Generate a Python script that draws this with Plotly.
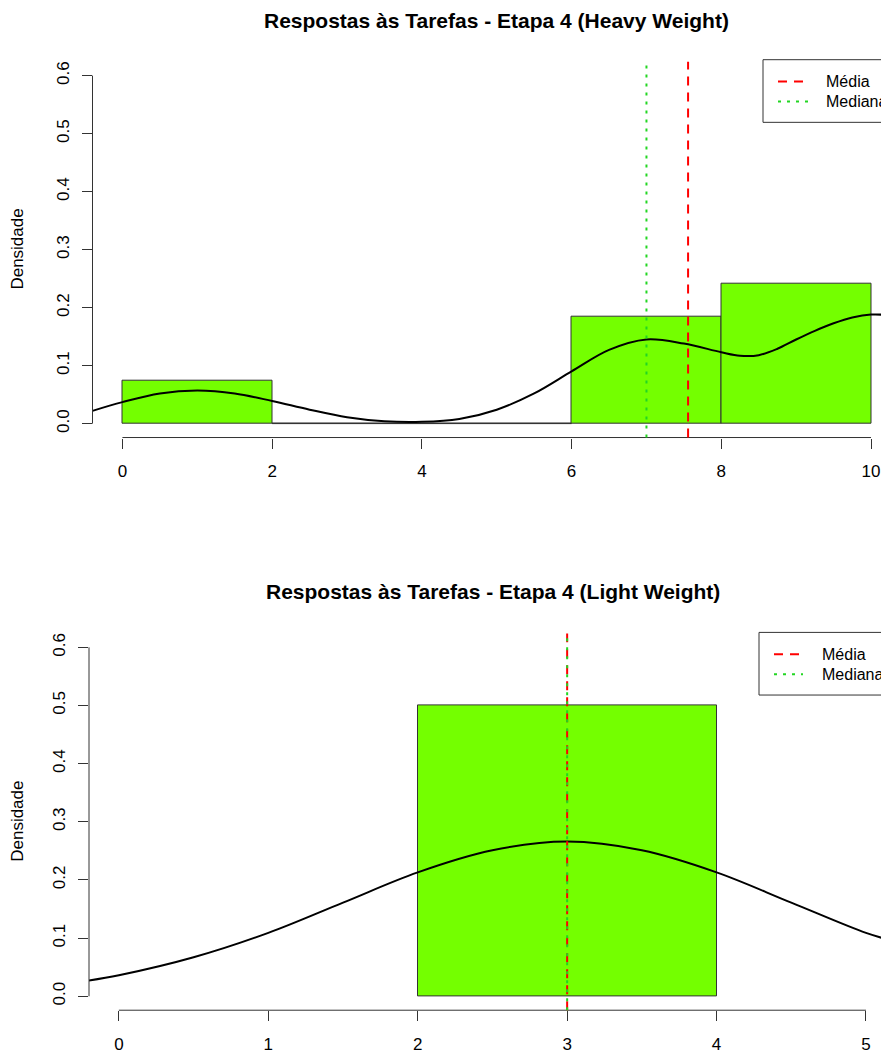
import plotly.graph_objects as go

# ---------------- data ----------------
heavy_title = "Respostas às Tarefas - Etapa 4 (Heavy Weight)"
heavy_breaks = [0, 2, 4, 6, 8, 10]
heavy_density = [0.0741, 0.0, 0.0, 0.1852, 0.2407]
heavy_mean = 7.556
heavy_median = 7.0
heavy_kde_x = [-0.4, 0, 0.5, 1, 1.5, 2, 2.5, 3, 3.5, 4, 4.5, 5, 5.5, 6, 6.5, 7, 7.5, 8,
               8.25, 8.5, 8.75, 9, 9.25, 9.5, 9.75, 10, 10.2, 10.4]
heavy_kde_y = [0.022, 0.037, 0.052, 0.057, 0.052, 0.039, 0.024, 0.011, 0.004, 0.003, 0.008, 0.024,
               0.052, 0.090, 0.127, 0.145, 0.138, 0.123, 0.117, 0.118, 0.129, 0.145, 0.160, 0.173,
               0.183, 0.188, 0.187, 0.181]
heavy_xticks = [0, 2, 4, 6, 8, 10]

light_title = "Respostas às Tarefas - Etapa 4 (Light Weight)"
light_breaks = [2, 4]
light_density = [0.5]
light_mean = 3.0
light_median = 3.0
light_kde_x = [-0.2, 0, 0.5, 1, 1.5, 2, 2.5, 3, 3.5, 4, 4.5, 5, 5.2]
light_kde_y = [0.027, 0.036, 0.067, 0.109, 0.161, 0.213, 0.251, 0.266, 0.251, 0.213, 0.161, 0.109, 0.094]
light_xticks = [0, 1, 2, 3, 4, 5]

y_ticks = [0.0, 0.1, 0.2, 0.3, 0.4, 0.5, 0.6]
y_ticktext = ["0.0", "0.1", "0.2", "0.3", "0.4", "0.5", "0.6"]
y_title = "Densidade"
legend_labels = ["Média", "Mediana"]

# ---------------- style ----------------
# the page body has an 8px margin, so the figure is 8px smaller and all
# layout positions below (taken in window pixels) are shifted by 8px
OFF = 8
W, H = 889 - OFF, 1054 - OFF
FONT = "Liberation Sans, Arial, Helvetica, sans-serif"
BAR_GREEN = "#74FF00"
OUTLINE = "#333333"
MEAN_COL = "#FF0000"
MED_COL = "#22D622"
MEAN_DASH = "9px,7px"
MED_DASH = "3px,6px"
TICK_SIZE = 17


def fx(p):
    return (p - OFF) / W


def fy(p):
    return 1 - (p - OFF) / H


panels = [
    dict(title=heavy_title, breaks=heavy_breaks, dens=heavy_density, mean=heavy_mean, med=heavy_median,
         kx=heavy_kde_x, ky=heavy_kde_y, xt=heavy_xticks,
         left=92.5, top=62, bottom=440, xrange=[-0.4, 10.24], title_y=20.5, title_x=496.5,
         leg=dict(left=763, top=60, bottom=123, text_x=824, y1=82, y2=102, s0=778, s1=808)),
    dict(title=light_title, breaks=light_breaks, dens=light_density, mean=light_mean, med=light_median,
         kx=light_kde_x, ky=light_kde_y, xt=light_xticks,
         left=89, top=637, bottom=1016, xrange=[-0.2, 5.154], title_y=595, title_x=492.5,
         leg=dict(left=759, top=636, bottom=699, text_x=820, y1=658, y2=678, s0=774, s1=803)),
]

fig = go.Figure()
shapes = []
annotations = []
layout_axes = {}

for i, p in enumerate(panels):
    n = "" if i == 0 else str(i + 1)
    xa, ya = "x" + n, "y" + n
    br = p["breaks"]
    mids = [(br[k] + br[k + 1]) / 2 for k in range(len(br) - 1)]
    widths = [br[k + 1] - br[k] for k in range(len(br) - 1)]

    fig.add_trace(go.Bar(x=mids, y=p["dens"], width=widths, xaxis=xa, yaxis=ya,
                         marker=dict(color=BAR_GREEN, line=dict(color=OUTLINE, width=1)),
                         hoverinfo="skip"))
    # zero-height bins drawn as a line (like R's rect)
    zx, zy = [], []
    for k, d in enumerate(p["dens"]):
        if d == 0:
            zx += [br[k], br[k + 1], None]
            zy += [0, 0, None]
    if zx:
        fig.add_trace(go.Scatter(x=zx, y=zy, mode="lines", xaxis=xa, yaxis=ya,
                                 line=dict(color=OUTLINE, width=1), hoverinfo="skip"))
    fig.add_trace(go.Scatter(x=p["kx"], y=p["ky"], mode="lines", xaxis=xa, yaxis=ya,
                             line=dict(color="black", width=2, shape="spline", smoothing=1.0),
                             hoverinfo="skip"))

    xdom = [fx(p["left"]), 1.0]
    ydom = [fy(p["bottom"]), fy(p["top"])]
    layout_axes["xaxis" + n] = dict(
        domain=xdom, range=p["xrange"], anchor=ya, tickvals=p["xt"],
        ticktext=[str(t) for t in p["xt"]], ticks="outside", ticklen=10, tickcolor=OUTLINE,
        tickwidth=1, showgrid=False, zeroline=False, showline=False,
        tickfont=dict(size=TICK_SIZE, color="black", family=FONT), ticklabelstandoff=8, fixedrange=True)
    layout_axes["yaxis" + n] = dict(
        domain=ydom, range=[-0.024, 0.624], anchor=xa, tickvals=y_ticks, ticktext=y_ticktext,
        ticks="outside", ticklen=10, tickcolor=OUTLINE, tickwidth=1, tickangle=-90,
        showgrid=False, zeroline=False, showline=False,
        tickfont=dict(size=TICK_SIZE, color="black", family=FONT), ticklabelstandoff=6, fixedrange=True)

    # R-style axis lines spanning only the tick range
    shapes.append(dict(type="line", xref=xa, yref="paper", x0=p["xt"][0], x1=p["xt"][-1],
                       y0=ydom[0], y1=ydom[0], line=dict(color=OUTLINE, width=1)))
    shapes.append(dict(type="line", xref="paper", yref=ya, x0=xdom[0], x1=xdom[0],
                       y0=y_ticks[0], y1=y_ticks[-1], line=dict(color=OUTLINE, width=1)))
    # mean / median lines
    shapes.append(dict(type="line", xref=xa, yref=ya + " domain", x0=p["mean"], x1=p["mean"],
                       y0=0, y1=1, line=dict(color=MEAN_COL, width=2, dash=MEAN_DASH)))
    shapes.append(dict(type="line", xref=xa, yref=ya + " domain", x0=p["med"], x1=p["med"],
                       y0=0, y1=1, line=dict(color=MED_COL, width=2, dash=MED_DASH)))

    # legend (drawn manually so that it is cropped at the right edge like the reference)
    L = p["leg"]
    shapes.append(dict(type="rect", xref="paper", yref="paper", x0=fx(L["left"]), x1=fx(L["left"] + 200),
                       y0=fy(L["bottom"]), y1=fy(L["top"]), line=dict(color=OUTLINE, width=1),
                       fillcolor="white", layer="above"))
    shapes.append(dict(type="line", xref="paper", yref="paper", x0=fx(L["s0"]), x1=fx(L["s1"]),
                       y0=fy(L["y1"]), y1=fy(L["y1"]), line=dict(color=MEAN_COL, width=2, dash=MEAN_DASH)))
    shapes.append(dict(type="line", xref="paper", yref="paper", x0=fx(L["s0"]), x1=fx(L["s1"]),
                       y0=fy(L["y2"]), y1=fy(L["y2"]), line=dict(color=MED_COL, width=2, dash=MED_DASH)))
    for lab, yy in zip(legend_labels, [L["y1"], L["y2"]]):
        annotations.append(dict(text=lab, xref="paper", yref="paper", x=fx(L["text_x"]), y=fy(yy),
                                xanchor="left", yanchor="middle", showarrow=False,
                                font=dict(size=16, color="black", family=FONT)))

    # title and y label
    annotations.append(dict(text="<b>" + p["title"] + "</b>", xref="paper", yref="paper",
                            x=fx(p["title_x"]), y=fy(p["title_y"]), xanchor="center", yanchor="middle",
                            showarrow=False, borderpad=0,
                            font=dict(size=21, color="black", family=FONT)))
    annotations.append(dict(text=y_title, xref="paper", yref="paper", x=fx(18),
                            y=fy((p["top"] + p["bottom"]) / 2), xanchor="center", yanchor="middle",
                            textangle=-90, showarrow=False, font=dict(size=17, color="black", family=FONT)))

fig.update_layout(
    width=W, height=H, margin=dict(l=0, r=0, t=0, b=0, pad=0), autosize=False,
    paper_bgcolor="white", plot_bgcolor="white", showlegend=False, bargap=0,
    font=dict(family=FONT, color="black"), shapes=shapes, annotations=annotations,
    **layout_axes,
)

fig.write_html("out.html", config={"displayModeBar": False})
